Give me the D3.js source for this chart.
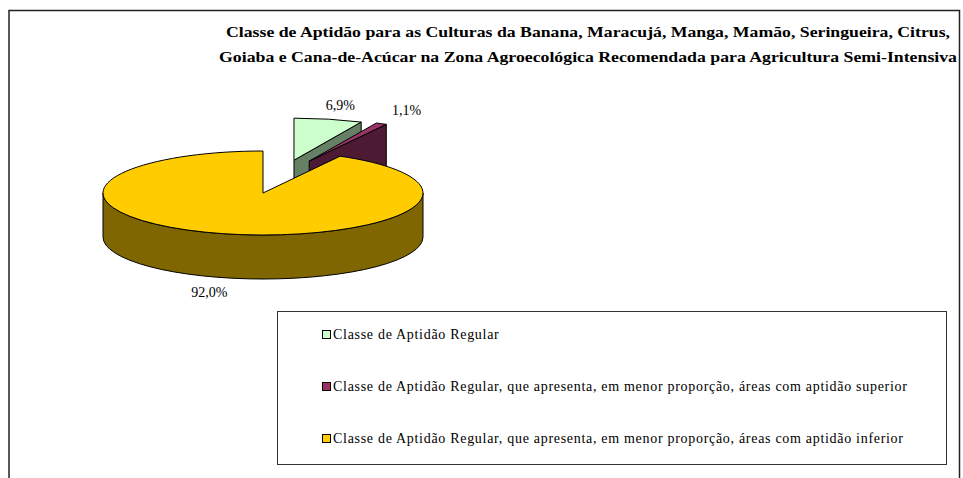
<!DOCTYPE html>
<html>
<head>
<meta charset="utf-8">
<script src="https://cdn.jsdelivr.net/npm/d3@7"></script>
<style>
  body { margin: 0; background: #fff; }
  svg { display: block; font-family: "Liberation Serif", "Times New Roman", serif; }
</style>
</head>
<body>
<svg id="chart" width="963" height="478"></svg>
<script>
// chart data
var categories = [
  "Classe de Aptidão Regular",
  "Classe de Aptidão Regular, que apresenta, em menor proporção, áreas com aptidão superior",
  "Classe de Aptidão Regular, que apresenta, em menor proporção, áreas com aptidão inferior"
];
var values = [6.9, 1.1, 92.0];
var valueLabels = ["6,9%", "1,1%", "92,0%"];
var titleLines = [
  "Classe de Aptidão para as Culturas da Banana,  Maracujá, Manga, Mamão, Seringueira, Citrus,",
  "Goiaba e Cana-de-Acúcar na Zona Agroecológica Recomendada para Agricultura Semi-Intensiva"
];

// styles
var topColors = ["#CCFFCC", "#993366", "#FFCC00"];
var sideColors = ["#668066", "#4D1A33", "#806600"];
// explosion of each slice (fraction of radius, horizontal / vertical)
var explode = [[0.9, 0.8], [0.64, 0.85], [0, 0]];

var svg = d3.select("#chart");
var width = +svg.attr("width");
var height = +svg.attr("height");

// frame
svg.append("path")
  .attr("d", "M9," + height + " V10.5 H959.5 V" + height)
  .attr("fill", "none")
  .attr("stroke", "#222")
  .attr("stroke-width", 1.5);

// title
var titleX = 588;
svg.selectAll(".title")
  .data(titleLines)
  .enter().append("text")
  .attr("class", "title")
  .attr("x", titleX)
  .attr("y", function(d, i) { return 37 + i * 24.5; })
  .attr("text-anchor", "middle")
  .attr("font-weight", "bold")
  .attr("font-size", "15.5px")
  .attr("textLength", function(d, i) { return i === 0 ? 724 : 738; })
  .attr("lengthAdjust", "spacingAndGlyphs")
  .text(function(d) { return d; });

// pie geometry
var cx = 263, cy = 193, rx = 160, ry = 42, depth = 44;

var pie = d3.pie().sort(null).value(function(d) { return d; });
var arcs = pie(values);

function pt(a, o, dy) {
  return [cx + o[0] + rx * Math.sin(a), cy + o[1] - ry * Math.cos(a) + (dy || 0)];
}

arcs.forEach(function(d, i) {
  var mid = (d.startAngle + d.endAngle) / 2;
  d.offset = [Math.sin(mid) * rx * explode[i][0], -Math.cos(mid) * ry * explode[i][1]];
  d.index = i;
});

// draw back to front
var order = arcs.slice().sort(function(a, b) { return a.offset[1] - b.offset[1]; });

var chart = svg.append("g").attr("class", "chart");

order.forEach(function(d) {
  var i = d.index, o = d.offset;
  var g = chart.append("g").attr("class", "slice");
  var s = d.startAngle, e = d.endAngle;

  // outer wall, front half only
  var a0 = Math.max(s, Math.PI / 2), a1 = Math.min(e, Math.PI * 1.5);
  if (a1 > a0) {
    var p0 = pt(a0, o), p1 = pt(a1, o), q1 = pt(a1, o, depth), q0 = pt(a0, o, depth);
    var big = (a1 - a0) > Math.PI ? 1 : 0;
    g.append("path")
      .attr("d", "M" + p0 + " A" + rx + "," + ry + " 0 " + big + " 1 " + p1 +
        " L" + q1 + " A" + rx + "," + ry + " 0 " + big + " 0 " + q0 + " Z")
      .attr("fill", sideColors[i])
      .attr("stroke", "#000")
      .attr("stroke-width", 1)
      .attr("stroke-linejoin", "round");
  }

  var c = [cx + o[0], cy + o[1]];
  var cd = [c[0], c[1] + depth];
  // cut faces
  function face(a) {
    var p = pt(a, o), q = pt(a, o, depth);
    g.append("path")
      .attr("d", "M" + c + " L" + p + " L" + q + " L" + cd + " Z")
      .attr("fill", sideColors[i])
      .attr("stroke", "#000")
      .attr("stroke-width", 1)
      .attr("stroke-linejoin", "round");
  }
  if (Math.sin(e) > 1e-6) face(e);
  if (-Math.sin(s) > 1e-6) face(s);

  // top face
  var ps = pt(s, o), pe = pt(e, o);
  var large = (e - s) > Math.PI ? 1 : 0;
  g.append("path")
    .attr("d", "M" + c + " L" + ps + " A" + rx + "," + ry + " 0 " + large + " 1 " + pe + " Z")
    .attr("fill", topColors[i])
    .attr("stroke", "#000")
    .attr("stroke-width", 1)
    .attr("stroke-linejoin", "round");
});

// value labels
var labelK = 1.35;
chart.selectAll(".value-label")
  .data(arcs)
  .enter().append("text")
  .attr("class", "value-label")
  .attr("x", function(d) {
    var mid = (d.startAngle + d.endAngle) / 2;
    return cx + d.offset[0] + Math.sin(mid) * rx * labelK;
  })
  .attr("y", function(d) {
    var mid = (d.startAngle + d.endAngle) / 2;
    var y = cy + d.offset[1] - Math.cos(mid) * ry * labelK;
    return Math.cos(mid) < 0 ? y + depth : y;
  })
  .attr("dy", "0.35em")
  .attr("text-anchor", "middle")
  .attr("font-size", "14px")
  .attr("fill", "#000")
  .text(function(d) { return valueLabels[d.index]; });

// legend
var legend = svg.append("g").attr("class", "legend");
legend.append("rect")
  .attr("x", 277.5)
  .attr("y", 311.5)
  .attr("width", 669)
  .attr("height", 153)
  .attr("fill", "#fff")
  .attr("stroke", "#333")
  .attr("stroke-width", 1);

var ly = d3.scalePoint().domain(categories).range([334, 438]);

var items = legend.selectAll(".legend-item")
  .data(categories)
  .enter().append("g")
  .attr("class", "legend-item")
  .attr("transform", function(d) { return "translate(322," + ly(d) + ")"; });

items.append("rect")
  .attr("x", 0.5)
  .attr("y", -3.5)
  .attr("width", 8)
  .attr("height", 8)
  .attr("fill", function(d, i) { return topColors[i]; })
  .attr("stroke", "#000")
  .attr("stroke-width", 1);

items.append("text")
  .attr("x", 11)
  .attr("y", 5)
  .attr("font-size", "14px")
  .attr("letter-spacing", "0.7px")
  .text(function(d) { return d; });
</script>
</body>
</html>
